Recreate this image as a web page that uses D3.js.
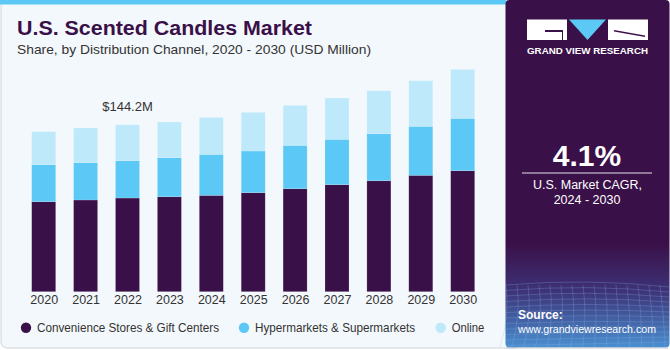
<!DOCTYPE html>
<html>
<head>
<meta charset="utf-8">
<script src="https://cdn.jsdelivr.net/npm/d3@7"></script>
<style>
  body { margin: 0; background: #ffffff; }
  svg { display: block; font-family: "Liberation Sans", Arial, sans-serif; }
</style>
</head>
<body>
<div id="chart"></div>
<script>
(function(){

const years = ["2020","2021","2022","2023","2024","2025","2026","2027","2028","2029","2030"];
const convenience = [77.7, 79.2, 80.9, 82.0, 83.2, 85.5, 88.9, 92.4, 95.8, 100.5, 104.5];
const hypermarkets = [32.0, 32.2, 32.2, 33.7, 35.4, 36.0, 37.5, 39.2, 40.6, 42.3, 45.2];
const online = [28.5, 30.0, 31.1, 30.8, 31.9, 33.4, 34.5, 35.7, 37.1, 39.4, 42.3];
const seriesNames = ["Convenience Stores & Gift Centers", "Hypermarkets & Supermarkets", "Online"];
const seriesColors = ["#3a1048", "#5bc8f5", "#bde9fa"];
const callout = { year: "2022", label: "$144.2M" };

const width = 670;
const height = 350;

const svg = d3.select("#chart")
  .append("svg")
  .attr("width", width)
  .attr("height", height);

const defs = svg.append("defs");
const grad = defs.append("linearGradient")
  .attr("id", "panelGrad")
  .attr("x1", 0).attr("y1", 0).attr("x2", 0).attr("y2", 1);
grad.append("stop").attr("offset", "0%").attr("stop-color", "#3a1048");
grad.append("stop").attr("offset", "70%").attr("stop-color", "#3a1048");
grad.append("stop").attr("offset", "84%").attr("stop-color", "#3d3378");
grad.append("stop").attr("offset", "100%").attr("stop-color", "#4a8fd0");

// main panel
svg.append("rect")
  .attr("x", 1).attr("y", 0)
  .attr("width", 520).attr("height", 348)
  .attr("rx", 6)
  .attr("fill", "#f3f8fc")
  .attr("stroke", "#cfd3d8")
  .attr("stroke-width", 1);

svg.append("rect")
  .attr("x", 0).attr("y", 0)
  .attr("width", 506).attr("height", 4.5)
  .attr("fill", "#5bc8f5");

// right panel
svg.append("rect")
  .attr("x", 505.5).attr("y", 0)
  .attr("width", 164).attr("height", 347.5)
  .attr("rx", 4)
  .attr("fill", "url(#panelGrad)");
svg.append("line")
  .attr("x1", 506).attr("x2", 668).attr("y1", 348).attr("y2", 348)
  .attr("stroke", "#c9ccd2");

// faint mesh in the bottom of the right panel
const mesh = svg.append("g").attr("stroke", "#8fb6e6").attr("stroke-opacity", 0.25).attr("fill", "none");
d3.range(0, 12).forEach(i => {
  mesh.append("path")
    .attr("d", `M506,${285 + i * 5.5} Q587,${278 + i * 6} 669,${287 + i * 5}`);
});
d3.range(0, 16).forEach(i => {
  const xx = 506 + i * 11;
  mesh.append("path")
    .attr("d", `M${xx},285 Q${xx + 4},315 ${xx - 6 + i * 0.8},347`);
});

// title
svg.append("text")
  .attr("x", 17).attr("y", 35)
  .attr("fill", "#3a1048")
  .attr("font-size", 20)
  .attr("font-weight", "bold")
  .attr("textLength", 295)
  .attr("lengthAdjust", "spacingAndGlyphs")
  .text("U.S. Scented Candles Market");

svg.append("text")
  .attr("x", 17).attr("y", 54)
  .attr("fill", "#333")
  .attr("font-size", 13.5)
  .attr("textLength", 354)
  .attr("lengthAdjust", "spacingAndGlyphs")
  .text("Share, by Distribution Channel, 2020 - 2030 (USD Million)");

// scales
const x = d3.scalePoint()
  .domain(years)
  .range([43.7, 462.7]);

const y = d3.scaleLinear()
  .domain([0, 250])
  .range([291.7, 2.2]);

const barWidth = 24;

const rows = years.map((yr, i) => ({
  year: yr,
  convenience: convenience[i],
  hypermarkets: hypermarkets[i],
  online: online[i]
}));

const stack = d3.stack().keys(["convenience", "hypermarkets", "online"]);
const layers = stack(rows);

svg.append("g")
  .selectAll("g")
  .data(layers)
  .enter()
  .append("g")
  .attr("fill", (d, i) => seriesColors[i])
  .selectAll("rect")
  .data(d => d)
  .enter()
  .append("rect")
  .attr("x", d => x(d.data.year) - barWidth / 2)
  .attr("y", d => y(d[1]))
  .attr("width", barWidth)
  .attr("height", d => y(d[0]) - y(d[1]))
  .attr("stroke", "#ffffff")
  .attr("stroke-opacity", 0.25)
  .attr("stroke-width", 0.6);

// x axis labels
const xAxis = d3.axisBottom(x).tickSize(0).tickPadding(0);
const axisG = svg.append("g")
  .attr("transform", "translate(0,293)")
  .call(xAxis);
axisG.select(".domain").remove();
axisG.selectAll("text")
  .attr("dy", "0.9em")
  .attr("font-size", 12.5)
  .attr("font-family", "\"Liberation Sans\", Arial, sans-serif")
  .attr("fill", "#333");

// callout
const cRow = rows.find(r => r.year === callout.year);
svg.append("text")
  .attr("x", x(callout.year))
  .attr("y", y(cRow.convenience + cRow.hypermarkets + cRow.online) - 14)
  .attr("text-anchor", "middle")
  .attr("font-size", 13)
  .attr("fill", "#333")
  .text(callout.label);

// legend
const legendX = [26, 244, 440.7];
const legendW = [182, 160, 32.5];
const legend = svg.append("g")
  .selectAll("g")
  .data(seriesNames)
  .enter()
  .append("g")
  .attr("transform", (d, i) => `translate(${legendX[i]},327.7)`);
legend.append("circle")
  .attr("r", 5.2)
  .attr("fill", (d, i) => seriesColors[i]);
legend.append("text")
  .attr("x", 11)
  .attr("y", 4.6)
  .attr("font-size", 13)
  .attr("fill", "#333")
  .attr("textLength", (d, i) => legendW[i])
  .attr("lengthAdjust", "spacingAndGlyphs")
  .text(d => d);

// logo
const logo = svg.append("g");
logo.append("rect").attr("x", 527).attr("y", 19.5).attr("width", 40).attr("height", 20.5).attr("fill", "#ffffff");
logo.append("path").attr("d", "M563,30 H545 V32 H562 V40 H563 Z").attr("fill", "#3a1048");
logo.append("path").attr("d", "M569,19.5 L606,19.5 L587.5,40 Z").attr("fill", "#5bc8f5");
logo.append("rect").attr("x", 608).attr("y", 19.5).attr("width", 40).attr("height", 20.5).attr("fill", "#ffffff");
logo.append("path").attr("d", "M614,30 L645,35.5 L645,37 L614,31.5 Z").attr("fill", "#3a1048");
logo.append("text")
  .attr("x", 587.5).attr("y", 54)
  .attr("text-anchor", "middle")
  .attr("font-size", 8.5)
  .attr("font-weight", "bold")
  .attr("textLength", 121)
  .attr("lengthAdjust", "spacingAndGlyphs")
  .attr("fill", "#ffffff")
  .text("GRAND VIEW RESEARCH");

// CAGR
svg.append("text")
  .attr("x", 587).attr("y", 166)
  .attr("text-anchor", "middle")
  .attr("font-size", 30)
  .attr("font-weight", "bold")
  .attr("fill", "#ffffff")
  .text("4.1%");
svg.append("line")
  .attr("x1", 522).attr("x2", 652)
  .attr("y1", 173).attr("y2", 173)
  .attr("stroke", "#e6dfe9").attr("stroke-width", 1.2);
svg.append("text")
  .attr("x", 587.5).attr("y", 189)
  .attr("text-anchor", "middle")
  .attr("font-size", 12.5)
  .attr("fill", "#ffffff")
  .text("U.S. Market CAGR,");
svg.append("text")
  .attr("x", 587).attr("y", 204)
  .attr("text-anchor", "middle")
  .attr("font-size", 12.5)
  .attr("fill", "#ffffff")
  .text("2024 - 2030");

// source
svg.append("text")
  .attr("x", 518).attr("y", 319)
  .attr("font-size", 12)
  .attr("font-weight", "bold")
  .attr("fill", "#ffffff")
  .text("Source:");
svg.append("text")
  .attr("x", 518).attr("y", 333)
  .attr("font-size", 11)
  .attr("fill", "#ffffff")
  .attr("textLength", 138)
  .attr("lengthAdjust", "spacingAndGlyphs")
  .text("www.grandviewresearch.com");

})();
</script>
</body>
</html>
